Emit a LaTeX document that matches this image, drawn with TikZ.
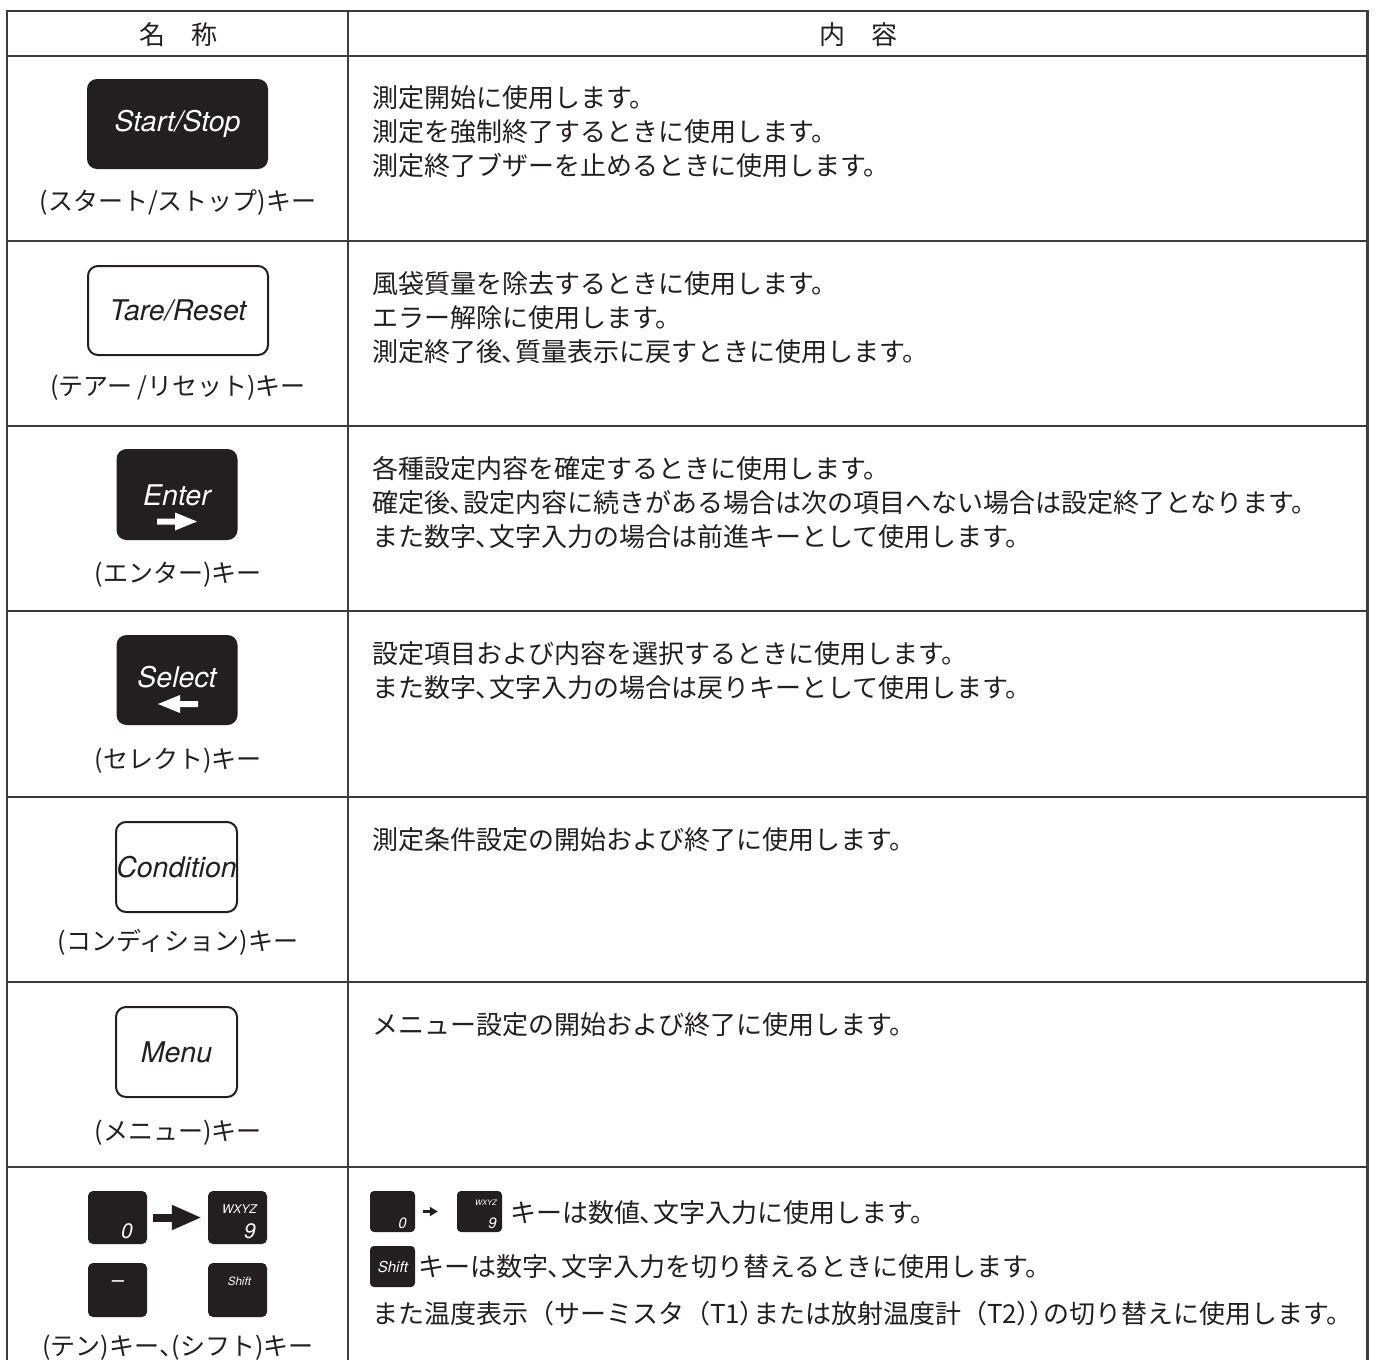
\documentclass[tikz,border=0pt]{standalone}
\usepackage{fontspec}
\setmainfont{Noto Sans CJK JP}
\newfontfamily\keyf{TeX Gyre Heros}
\usetikzlibrary{arrows.meta}
\definecolor{keyblack}{HTML}{231F20}
\definecolor{tline}{HTML}{3C3C3C}
\definecolor{txt}{HTML}{231F20}
\newcommand{\pp}[1]{{\addfontfeature{RawFeature=+palt}#1}}
\newcommand{\tc}{\pp{、}}
\begin{document}
\begin{tikzpicture}[x=1pt,y=-1pt,
  grid/.style={draw=tline,line width=2pt},
  bkey/.style={fill=keyblack,rounded corners=10pt,inner sep=0pt,text=white},
  wkey/.style={draw=keyblack,line width=2pt,fill=white,rounded corners=10pt,inner sep=0pt,text=keyblack},
  skey/.style={fill=keyblack,rounded corners=5pt,inner sep=0pt},
  jp/.style={font=\fontsize{26}{34}\selectfont,text=txt,inner sep=0pt},
  lab/.style={font=\fontsize{25}{34}\selectfont,text=txt,inner sep=0pt},
  ktxt/.style={font=\keyf\itshape\fontsize{28.5}{30}\selectfont,inner sep=0pt},
  kwhite/.style={text=white,inner sep=0pt},
]
\useasboundingbox (0,0) rectangle (1376,1360);
\fill[white] (0,0) rectangle (1376,1360);
% table grid
\foreach \yy in {11,56,241,426,611,797,982,1167}
  \draw[grid] (7,\yy) -- (1367,\yy);
\draw[grid] (7,10) -- (7,1360);
\draw[grid] (348,11) -- (348,1360);
\draw[draw=tline,line width=3pt] (1367.5,10) -- (1367.5,1360);
% header
\node[jp,anchor=base] (h1) at (178,44) {名　称};
\node[jp,anchor=base] (h2) at (858,44) {内　容};
% row 1
\node[bkey,ktxt,minimum width=181pt,minimum height=90pt] (kstart) at (177.5,124) {Start/Stop};
\node[lab,anchor=base] (l1) at (178,210) {(スタート/ストップ)キー};
\node[jp,anchor=base west] (c1a) at (372,107) {測定開始に使用します。};
\node[jp,anchor=base west] (c1b) at (372,141) {測定を強制終了するときに使用します。};
\node[jp,anchor=base west] (c1c) at (372,175) {測定終了ブザーを止めるときに使用します。};
% row 2
\node[wkey,ktxt,minimum width=180pt,minimum height=89pt] (ktare) at (178,310.5) {Tare/Reset};
\node[lab,anchor=base] (l2) at (178,395) {(テアー /リセット)キー};
\node[jp,anchor=base west] (c2a) at (372,293) {風袋質量を除去するときに使用します。};
\node[jp,anchor=base west] (c2b) at (372,327) {エラー解除に使用します。};
\node[jp,anchor=base west] (c2c) at (372,361) {測定終了後\tc 質量表示に戻すときに使用します。};
% row 3
\node[bkey,minimum width=121pt,minimum height=91pt] (kenter) at (177,494.5) {};
\node[ktxt,kwhite,anchor=base] (tenter) at (177,505) {Enter};
\fill[white] (157,518.5) -- (175,518.5) -- (175,512.5) -- (197,521.5) -- (175,530.5) -- (175,524.5) -- (157,524.5) -- cycle;
\node[lab,anchor=base] (l3) at (178,582) {(エンター)キー};
\node[jp,anchor=base west] (c3a) at (372,478) {各種設定内容を確定するときに使用します。};
\node[jp,anchor=base west] (c3b) at (372,512) {確定後\tc 設定内容に続きがある場合は次の項目へない場合は設定終了となります。};
\node[jp,anchor=base west] (c3c) at (372,546) {また数字\tc 文字入力の場合は前進キーとして使用します。};
% row 4
\node[bkey,minimum width=121pt,minimum height=90pt] (kselect) at (177,680) {};
\node[ktxt,kwhite,anchor=base] (tselect) at (177,687) {Select};
\fill[white] (158,704) -- (180,695) -- (180,701) -- (198,701) -- (198,707) -- (180,707) -- (180,713) -- cycle;
\node[lab,anchor=base] (l4) at (178,768) {(セレクト)キー};
\node[jp,anchor=base west] (c4a) at (372,663) {設定項目および内容を選択するときに使用します。};
\node[jp,anchor=base west] (c4b) at (372,697) {また数字\tc 文字入力の場合は戻りキーとして使用します。};
% row 5
\node[wkey,ktxt,minimum width=121pt,minimum height=90pt] (kcond) at (176.5,867) {Condition};
\node[lab,anchor=base] (l5) at (178,950) {(コンディション)キー};
\node[jp,anchor=base west] (c5a) at (372,849) {測定条件設定の開始および終了に使用します。};
% row 6
\node[wkey,ktxt,minimum width=121pt,minimum height=90pt] (kmenu) at (176.5,1052) {Menu};
\node[lab,anchor=base] (l6) at (178,1140) {(メニュー)キー};
\node[jp,anchor=base west] (c6a) at (372,1034) {メニュー設定の開始および終了に使用します。};
% row 7 : keys
\node[skey,minimum width=59pt,minimum height=53pt] (kzero) at (117.5,1217.5) {};
\node[skey,minimum width=59pt,minimum height=53pt] (knine) at (237.5,1217.5) {};
\node[skey,minimum width=59pt,minimum height=54pt] (kminus) at (117.5,1290) {};
\node[skey,minimum width=59pt,minimum height=54pt] (kshift) at (237.5,1290) {};
\node[kwhite,font=\keyf\itshape\fontsize{21}{22}\selectfont,anchor=base east] (tzero) at (133,1238) {0};
\node[kwhite,font=\keyf\itshape\fontsize{21}{22}\selectfont,anchor=base east] (tnine) at (256,1238) {9};
\node[kwhite,font=\keyf\itshape\fontsize{12}{13}\selectfont,anchor=base east] (twxyz) at (257,1213) {WXYZ};
\node[kwhite,font=\keyf\fontsize{22}{22}\selectfont,anchor=base] (tminus) at (118,1287) {–};
\node[kwhite,font=\keyf\itshape\fontsize{11.5}{12}\selectfont,anchor=base] (tshift) at (239.5,1285) {Shift};
\draw[keyblack,line width=8pt,shorten <=6pt,shorten >=6pt,-{Triangle[length=30pt,width=23pt]}] (kzero.east) -- (knine.west);
\node[lab,anchor=base] (l7) at (178,1355) {(テン)キー\tc (シフト)キー};
% row 7 : content
\node[skey,rounded corners=4pt,minimum width=45pt,minimum height=41pt] (szero) at (392.5,1211.5) {};
\node[skey,rounded corners=4pt,minimum width=45pt,minimum height=41pt] (snine) at (479.5,1211.5) {};
\node[skey,rounded corners=4pt,minimum width=45pt,minimum height=41pt] (sshift) at (392.5,1266.5) {};
\node[kwhite,font=\keyf\itshape\fontsize{15}{16}\selectfont,anchor=base east] (szt) at (407,1228) {0};
\node[kwhite,font=\keyf\itshape\fontsize{15}{16}\selectfont,anchor=base east] (snt) at (497,1228) {9};
\node[kwhite,font=\keyf\itshape\fontsize{7.5}{8}\selectfont,anchor=base east] (swt) at (497,1205) {WXYZ};
\node[kwhite,font=\keyf\itshape\fontsize{15}{16}\selectfont,anchor=base] (sst) at (393,1272) {Shift};
\draw[keyblack,line width=3pt,shorten <=8pt,shorten >=19pt,-{Triangle[length=8pt,width=9pt]}] (szero.east) -- (snine.west);
\node[jp,anchor=base west] (c7a) at (510,1222) {キーは数値\tc 文字入力に使用します。};
\node[jp,anchor=base west] (c7b) at (418,1276) {キーは数字\tc 文字入力を切り替えるときに使用します。};
\node[jp,anchor=base west] (c7c) at (372,1323) {また温度表示（サーミスタ（T1\pp{）}または放射温度計（T2\pp{））}の切り替えに使用します。};
\end{tikzpicture}
\end{document}
